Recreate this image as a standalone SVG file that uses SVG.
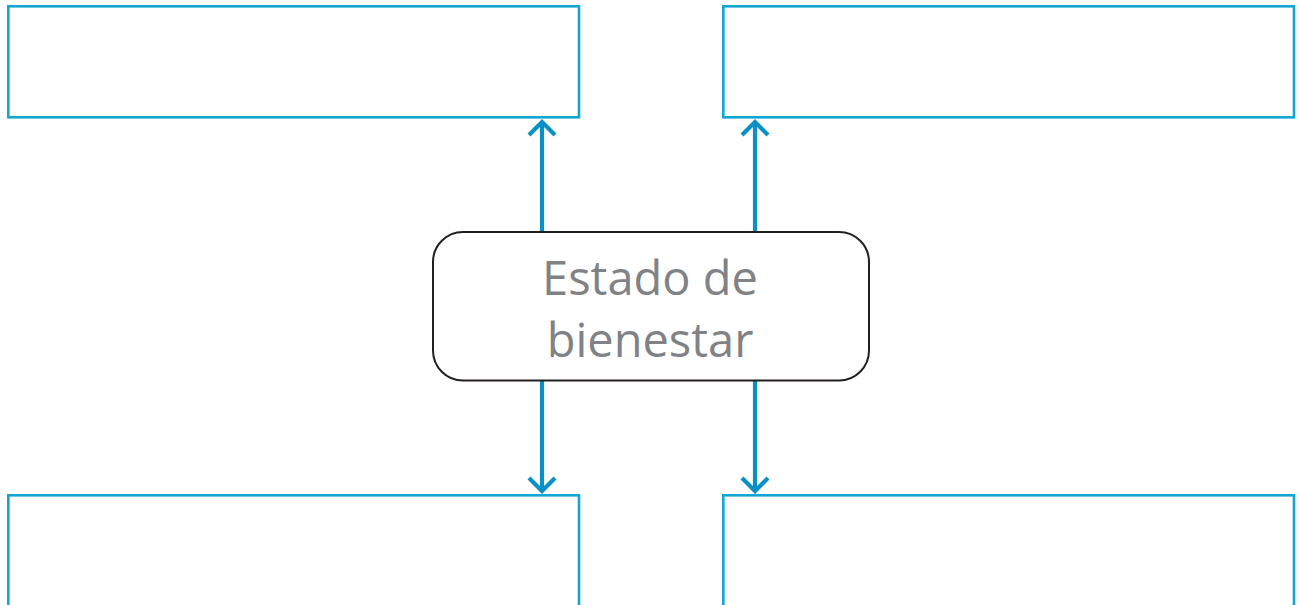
<svg xmlns="http://www.w3.org/2000/svg" width="1299" height="605" viewBox="0 0 1299 605">
<style>
.box{fill:#fff;stroke:#12a6d2;stroke-width:2.6}
.conn{stroke:#0a90c4;stroke-width:4.2;fill:none}
.head{stroke:#0a90c4;stroke-width:4.2;fill:none;stroke-linecap:butt}
.center{fill:#fff;stroke:#231f20;stroke-width:2}
.lbl{font-family:"Open Sans","Noto Sans",sans-serif;font-size:47px;fill:#808285;text-anchor:middle}
</style>
<rect width="1299" height="605" fill="#fff"/>
<g id="box-top-left"><rect class="box" x="8.3" y="6.3" width="570.7" height="111"/></g>
<g id="box-top-right"><rect class="box" x="723.3" y="6.3" width="570.7" height="111"/></g>
<g id="box-bottom-left"><rect class="box" x="8.3" y="495.3" width="570.7" height="130"/></g>
<g id="box-bottom-right"><rect class="box" x="723.3" y="495.3" width="570.7" height="130"/></g>
<g id="connectors">
<line class="conn" x1="542" y1="232" x2="542" y2="122"/>
<polyline class="head" points="529,135 542,122 555,135"/>
<line class="conn" x1="755" y1="232" x2="755" y2="122"/>
<polyline class="head" points="742,135 755,122 768,135"/>
<line class="conn" x1="542" y1="381" x2="542" y2="491"/>
<polyline class="head" points="529,478 542,491 555,478"/>
<line class="conn" x1="755" y1="381" x2="755" y2="491"/>
<polyline class="head" points="742,478 755,491 768,478"/>
</g>
<g id="node-center">
<rect class="center" x="433" y="232" width="436" height="148.5" rx="30"/>
<text class="lbl" x="650" y="295">Estado de</text>
<text class="lbl" x="650" y="357">bienestar</text>
</g>
</svg>
